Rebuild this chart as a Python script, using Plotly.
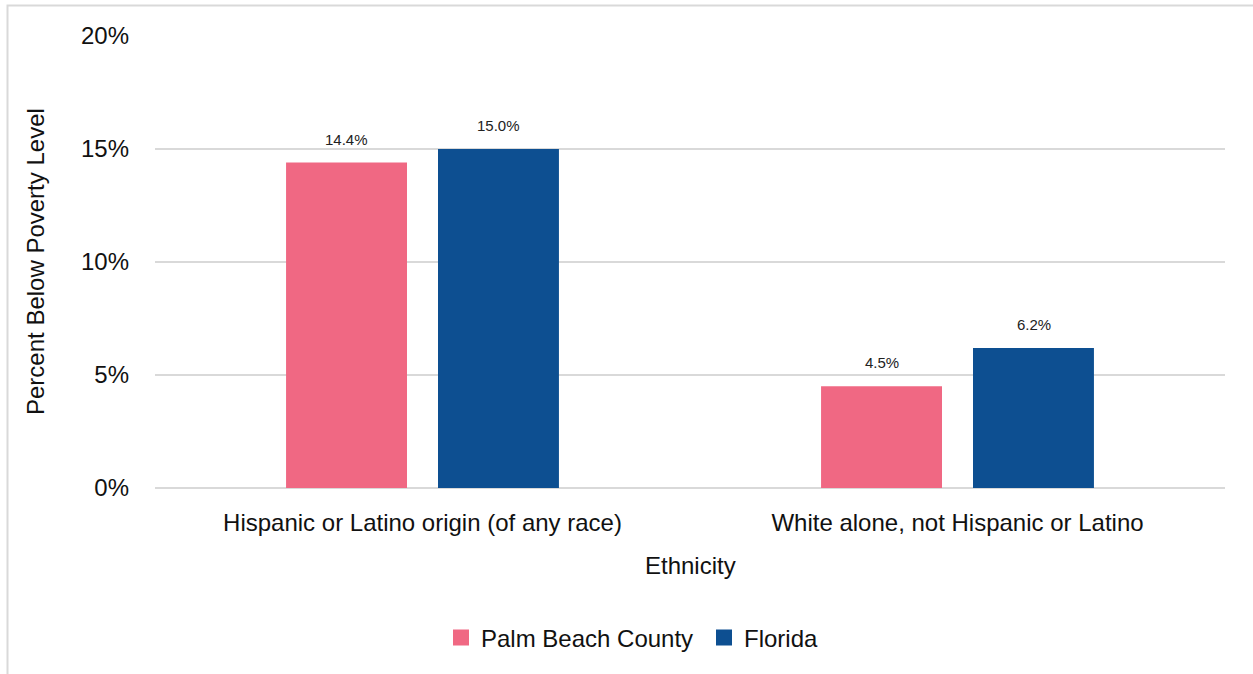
import plotly.graph_objects as go

categories = ["Hispanic or Latino origin (of any race)", "White alone, not Hispanic or Latino"]
palm_beach = [0.144, 0.045]
florida = [0.150, 0.062]
series_names = ["Palm Beach County", "Florida"]
series_colors = ["#F06883", "#0D4F91"]
tick_vals = [0, 0.05, 0.10, 0.15, 0.20]
tick_text = ["0%", "5%", "10%", "15%", "20%"]

W, H = 1253, 674
L, R, T, B = 155, 28, 36, 186
pw, ph = W - L - R, H - T - B

def px2x(px):
    return (px - L) / pw

def py2y(py):
    return (H - B - py) / ph

FONT = "Liberation Sans, Arial, sans-serif"

fig = go.Figure()
annotations = []
offsets = [-76, 76]
legend_ids = ["legend", "legend2"]
for name, vals, col, off, lid in zip(series_names, [palm_beach, florida], series_colors, offsets, legend_ids):
    fig.add_trace(go.Bar(
        x=categories, y=vals, name=name, showlegend=False,
        marker=dict(color=col, line=dict(width=0)),
    ))
    fig.add_trace(go.Scatter(
        x=[None], y=[None], name=name, mode="markers", legend=lid,
        marker=dict(symbol="square", size=17, color=col),
    ))
    for c, v in zip(categories, vals):
        annotations.append(dict(
            x=c, y=v, xref="x", yref="y", text=f"{v*100:.1f}%",
            showarrow=False, xshift=off, yshift=13, yanchor="bottom",
            font=dict(family=FONT, size=15, color="#222222"),
        ))

annotations.append(dict(
    text="Percent Below Poverty Level", textangle=-90,
    xref="paper", yref="paper", x=px2x(35), y=py2y(262),
    xanchor="center", yanchor="middle", showarrow=False,
    font=dict(family=FONT, size=24, color="#111111"),
))
annotations.append(dict(
    text="Ethnicity",
    xref="paper", yref="paper", x=px2x(690), y=py2y(565),
    xanchor="center", yanchor="middle", showarrow=False,
    font=dict(family=FONT, size=24, color="#111111"),
))

leg_common = dict(orientation="h", xanchor="left", yanchor="middle",
                  font=dict(family=FONT, size=24), itemsizing="trace", bgcolor="rgba(0,0,0,0)")

fig.update_layout(
    width=W, height=H,
    margin=dict(l=L, r=R, t=T, b=B),
    paper_bgcolor="white", plot_bgcolor="white",
    barmode="group", bargap=0.432, bargroupgap=0.204,
    font=dict(family=FONT, size=24, color="#111111"),
    xaxis=dict(
        tickfont=dict(family=FONT, size=24),
        showgrid=False, showline=False, ticks="", ticklabelstandoff=18,
    ),
    yaxis=dict(
        range=[0, 0.20], tickvals=tick_vals, ticktext=tick_text,
        tickfont=dict(family=FONT, size=24),
        showgrid=True, gridcolor="#D9D9D9", gridwidth=2,
        zeroline=True, zerolinecolor="#D9D9D9", zerolinewidth=2,
        ticks="", showline=False, ticklabelstandoff=25,
    ),
    legend=dict(x=px2x(441), y=py2y(638), **leg_common),
    legend2=dict(x=px2x(704), y=py2y(638), **leg_common),
    annotations=annotations,
    shapes=[dict(
        type="rect", xref="paper", yref="paper",
        x0=px2x(7.5), x1=px2x(1300), y0=py2y(5.5), y1=py2y(700),
        line=dict(color="#D9D9D9", width=2), fillcolor="rgba(0,0,0,0)", layer="below",
    )],
)

fig.write_html("out.html", config={"displayModeBar": False},
               post_script="document.body.style.margin='0px';")
